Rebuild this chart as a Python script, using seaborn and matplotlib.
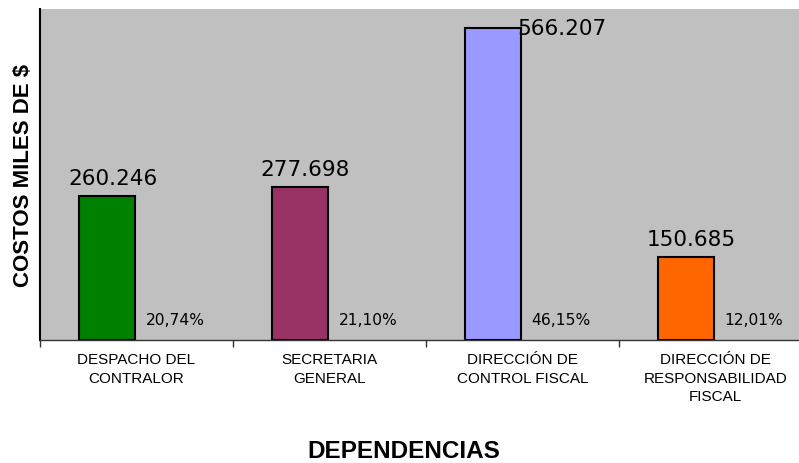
import numpy as np
import pandas as pd
import seaborn as sns
import matplotlib.pyplot as plt

# data
dependencias = ["DESPACHO DEL\nCONTRALOR", "SECRETARIA\nGENERAL",
                "DIRECCIÓN DE\nCONTROL FISCAL", "DIRECCIÓN DE\nRESPONSABILIDAD\nFISCAL"]
costos = [260.246, 277.698, 566.207, 150.685]
costos_txt = ["260.246", "277.698", "566.207", "150.685"]
porcentajes = ["20,74%", "21,10%", "46,15%", "12,01%"]
colores = ["#008000", "#993366", "#9999FF", "#FF6600"]

sns.set_style("white")
plt.rcParams['font.family'] = ['DejaVu Sans']
plt.rcParams['text.color'] = 'black'
plt.rcParams['axes.labelcolor'] = 'black'
plt.rcParams['xtick.color'] = 'black'

fig = plt.figure(figsize=(7.99, 4.64), dpi=100)
ax = fig.add_axes([40 / 799, 1 - 341 / 464, 772 / 799, 331 / 464])
ax.set_facecolor("#C0C0C0")

# bars sit left of the category centre (Excel style cluster)
pos = np.arange(len(costos)) - 0.153
df = pd.DataFrame({"pos": pos, "costo": costos, "dep": range(len(costos))})
sns.barplot(data=df, x="pos", y="costo", hue="dep", palette=colores, saturation=1,
            native_scale=True, width=0.295, edgecolor="black", linewidth=1.5,
            legend=False, ax=ax)

ymax = 600
ax.set_ylim(0, ymax)
ax.set_xlim(-0.5, 3.5)

for i, (v, t, p) in enumerate(zip(costos, costos_txt, porcentajes)):
    if v > ymax * 0.9:
        ax.annotate(t, (pos[i] + 0.1475, v), xytext=(-3, 0), textcoords="offset points",
                    ha="left", va="center", fontsize=15.5)
    else:
        ax.annotate(t, (pos[i], v), xytext=(4, 13), textcoords="offset points",
                    ha="center", va="center", fontsize=15.5)
    ax.annotate(p, (i + 0.2, 0), xytext=(0, 15), textcoords="offset points",
                ha="center", va="center", fontsize=11.2)

# ticks at category boundaries, labels at centres
ax.set_xticks(np.arange(-0.5, 4.0, 1.0))
ax.set_xticklabels([])
ax.tick_params(axis="x", which="major", direction="out", length=5, width=1,
               color="#333333", bottom=True)
ax.set_xticks(np.arange(4), minor=True)
ax.set_xticklabels(dependencias, minor=True, fontsize=11, family="Liberation Sans",
                   linespacing=1.4, color="black")
ax.tick_params(axis="x", which="minor", length=0, pad=9)
ax.set_yticks([])

for s in ["top", "right"]:
    ax.spines[s].set_visible(False)
ax.spines["left"].set_color("black")
ax.spines["left"].set_linewidth(1.5)
ax.spines["bottom"].set_color("#333333")
ax.spines["bottom"].set_linewidth(1)

ax.set_xlabel("")
ax.set_ylabel("COSTOS MILES DE $", fontsize=16, fontweight="bold",
              family="Liberation Sans", labelpad=0, color="black")
ax.yaxis.set_label_coords(-6 / 772, 0.5)
fig.text(404 / 799, 1 - 451.5 / 464, "DEPENDENCIAS", ha="center", va="center",
         fontsize=17.5, fontweight="bold", family="Liberation Sans", color="black")

fig.savefig("out.png", dpi=100)
